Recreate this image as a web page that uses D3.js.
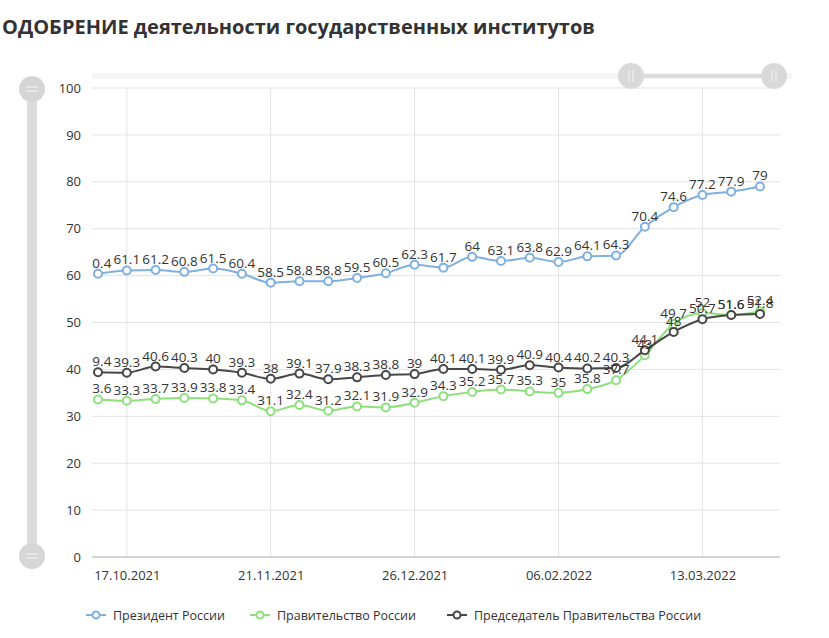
<!DOCTYPE html>
<meta charset="utf-8">
<title>ОДОБРЕНИЕ деятельности государственных институтов</title>
<style>
  body { margin: 0; background: #fff; }
  svg text { font-family: "Open Sans", sans-serif; fill: #333; }
</style>
<body>
<script src="https://d3js.org/d3.v7.min.js"></script>
<script>

var width = 829,
    height = 638;

// weekly survey dates
var dates = ["10.10.2021", "17.10.2021", "24.10.2021", "31.10.2021", "07.11.2021", "14.11.2021",
             "21.11.2021", "28.11.2021", "05.12.2021", "12.12.2021", "19.12.2021", "26.12.2021",
             "09.01.2022", "16.01.2022", "23.01.2022", "30.01.2022", "06.02.2022", "13.02.2022",
             "20.02.2022", "27.02.2022", "06.03.2022", "13.03.2022", "20.03.2022", "27.03.2022"];

var tickDates = ["17.10.2021", "21.11.2021", "26.12.2021", "06.02.2022", "13.03.2022"];

var president = [60.4, 61.1, 61.2, 60.8, 61.5, 60.4, 58.5, 58.8, 58.8, 59.5, 60.5, 62.3,
                 61.7, 64, 63.1, 63.8, 62.9, 64.1, 64.3, 70.4, 74.6, 77.2, 77.9, 79];
var government = [33.6, 33.3, 33.7, 33.9, 33.8, 33.4, 31.1, 32.4, 31.2, 32.1, 31.9, 32.9,
                  34.3, 35.2, 35.7, 35.3, 35, 35.8, 37.7, 43, 49.7, 52, 51.6, 52.4];
var premier = [39.4, 39.3, 40.6, 40.3, 40, 39.3, 38, 39.1, 37.9, 38.3, 38.8, 39,
               40.1, 40.1, 39.9, 40.9, 40.4, 40.2, 40.3, 44.1, 48, 50.7, 51.6, 51.8];

var yTicks = [0, 10, 20, 30, 40, 50, 60, 70, 80, 90, 100];

var series = [
  {name: "Президент России", values: president, color: "#7eb0e0"},
  {name: "Правительство России", values: government, color: "#8ee07c"},
  {name: "Председатель Правительства России", values: premier, color: "#474747"}
];

var plot = {left: 92, right: 780, top: 88, bottom: 557};

var x = d3.scalePoint()
    .domain(dates)
    .range([98, 760]);

var y = d3.scaleLinear()
    .domain([0, 100])
    .range([plot.bottom, plot.top]);

var svg = d3.select("body").append("svg")
    .attr("width", width)
    .attr("height", height);

// title
svg.append("text")
    .attr("x", 2)
    .attr("y", 34)
    .style("font-size", "20px")
    .style("font-weight", "bold")
    .text("ОДОБРЕНИЕ деятельности государственных институтов");

// top scrollbar
svg.append("rect")
    .attr("x", plot.left).attr("y", 73)
    .attr("width", 700).attr("height", 6)
    .attr("fill", "#f5f5f5");
svg.append("rect")
    .attr("x", 631).attr("y", 74)
    .attr("width", 143).attr("height", 4)
    .attr("fill", "#dcdcdc");
[631, 774].forEach(function(cx) {
  svg.append("circle").attr("cx", cx).attr("cy", 76).attr("r", 13).attr("fill", "#d9d9d9");
  [-2, 2].forEach(function(dx) {
    svg.append("line")
        .attr("x1", cx + dx).attr("x2", cx + dx)
        .attr("y1", 70).attr("y2", 82)
        .attr("stroke", "#f4f4f4").attr("stroke-width", 1);
  });
});

// left scrollbar
svg.append("rect")
    .attr("x", 27).attr("y", 89)
    .attr("width", 10).attr("height", 467)
    .attr("fill", "#dcdcdc");
[89, 556].forEach(function(cy) {
  svg.append("circle").attr("cx", 32).attr("cy", cy).attr("r", 13).attr("fill", "#d6d6d6");
  [-2, 2].forEach(function(dy) {
    svg.append("line")
        .attr("x1", 26).attr("x2", 38)
        .attr("y1", cy + dy).attr("y2", cy + dy)
        .attr("stroke", "#f4f4f4").attr("stroke-width", 1);
  });
});

// grid
svg.append("g")
  .selectAll("line")
  .data(yTicks.slice(1))
  .enter().append("line")
    .attr("x1", plot.left).attr("x2", plot.right)
    .attr("y1", function(d) { return y(d); })
    .attr("y2", function(d) { return y(d); })
    .attr("stroke", "#e3e3e3");

svg.append("g")
  .selectAll("line")
  .data(tickDates)
  .enter().append("line")
    .attr("x1", function(d) { return x(d); })
    .attr("x2", function(d) { return x(d); })
    .attr("y1", plot.top).attr("y2", plot.bottom)
    .attr("stroke", "#e3e3e3");

// axes
var yAxis = svg.append("g")
    .attr("transform", "translate(" + plot.left + ",0)")
    .call(d3.axisLeft(y).tickValues(yTicks).tickSize(0).tickPadding(11));
yAxis.select(".domain").remove();
yAxis.selectAll("text").style("font-size", "13px").attr("fill", "#333");

var xAxis = svg.append("g")
    .attr("transform", "translate(0," + plot.bottom + ")")
    .call(d3.axisBottom(x).tickValues(tickDates).tickSize(0).tickPadding(14));
xAxis.select(".domain").remove();
xAxis.selectAll("text").style("font-size", "13px").attr("fill", "#333");

svg.append("line")
    .attr("x1", plot.left).attr("x2", plot.right)
    .attr("y1", plot.bottom).attr("y2", plot.bottom)
    .attr("stroke", "#aaa");

// clip to plot
svg.append("clipPath").attr("id", "clip")
  .append("rect")
    .attr("x", plot.left).attr("y", 60)
    .attr("width", plot.right - plot.left).attr("height", plot.bottom - 60);

var body = svg.append("g").attr("clip-path", "url(#clip)");

var line = d3.line()
    .x(function(d, i) { return x(dates[i]); })
    .y(function(d) { return y(d); })
    .curve(d3.curveMonotoneX);

series.forEach(function(s) {
  var g = body.append("g");
  g.append("path")
      .datum(s.values)
      .attr("fill", "none")
      .attr("stroke", s.color)
      .attr("stroke-width", 2)
      .attr("d", line);
  g.selectAll("circle")
      .data(s.values)
      .enter().append("circle")
      .attr("cx", function(d, i) { return x(dates[i]); })
      .attr("cy", function(d) { return y(d); })
      .attr("r", 4)
      .attr("fill", "#fff")
      .attr("stroke", s.color)
      .attr("stroke-width", 2);
});

series.forEach(function(s) {
  body.append("g")
    .selectAll("text")
    .data(s.values)
    .enter().append("text")
      .attr("x", function(d, i) { return x(dates[i]); })
      .attr("y", function(d) { return y(d) - 6; })
      .attr("text-anchor", "middle")
      .style("font-size", "13.5px")
      .text(function(d) { return d; });
});

// legend
var legendX = [86, 250, 447];
var legend = svg.append("g")
  .selectAll("g")
  .data(series)
  .enter().append("g")
    .attr("transform", function(d, i) { return "translate(" + legendX[i] + ",615)"; });

legend.append("line")
    .attr("x1", 0).attr("x2", 20)
    .attr("stroke", function(d) { return d.color; })
    .attr("stroke-width", 2);
legend.append("circle")
    .attr("cx", 10).attr("r", 3.5)
    .attr("fill", "#fff")
    .attr("stroke", function(d) { return d.color; })
    .attr("stroke-width", 2);
legend.append("text")
    .attr("x", 27)
    .attr("y", 5)
    .style("font-size", "12.5px")
    .text(function(d) { return d.name; });

</script>
